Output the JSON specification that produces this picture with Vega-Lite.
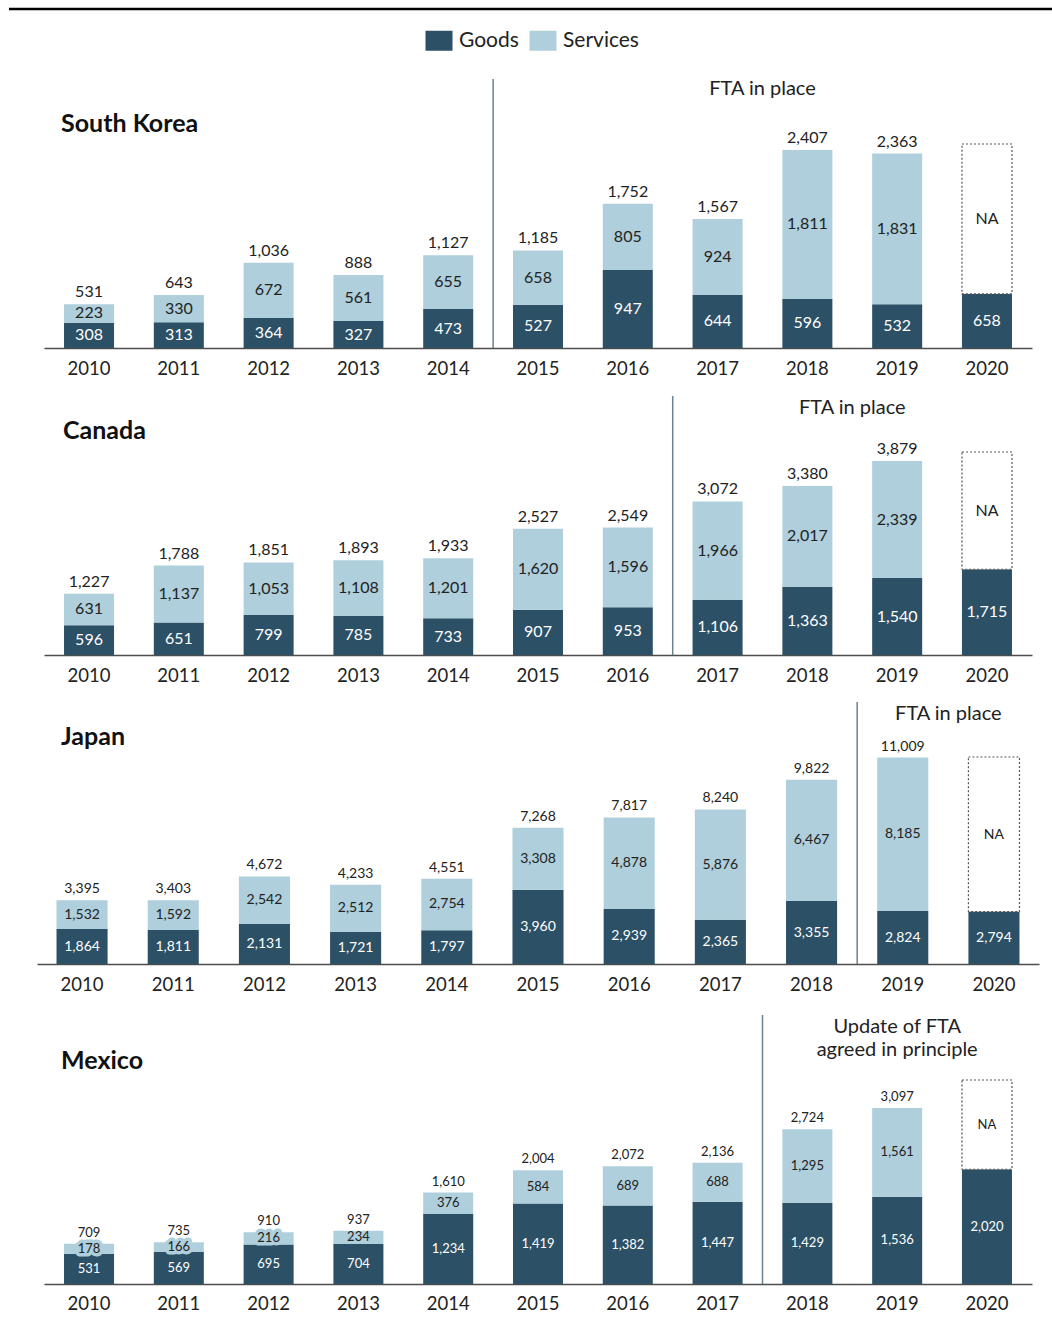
{
  "$schema": "https://vega.github.io/schema/vega-lite/v6.json",
  "padding": 0,
  "background": "white",
  "config": {"view": {"stroke": null}, "font": "Lato", "text": {"font": "Lato"}},
  "data": {"name": "trade"},
  "datasets": {
    "trade": [
      {"country": "South Korea", "year": 2010, "Goods": 308, "Services": 223, "Total": 531},
      {"country": "South Korea", "year": 2011, "Goods": 313, "Services": 330, "Total": 643},
      {"country": "South Korea", "year": 2012, "Goods": 364, "Services": 672, "Total": 1036},
      {"country": "South Korea", "year": 2013, "Goods": 327, "Services": 561, "Total": 888},
      {"country": "South Korea", "year": 2014, "Goods": 473, "Services": 655, "Total": 1127},
      {"country": "South Korea", "year": 2015, "Goods": 527, "Services": 658, "Total": 1185},
      {"country": "South Korea", "year": 2016, "Goods": 947, "Services": 805, "Total": 1752},
      {"country": "South Korea", "year": 2017, "Goods": 644, "Services": 924, "Total": 1567},
      {"country": "South Korea", "year": 2018, "Goods": 596, "Services": 1811, "Total": 2407},
      {"country": "South Korea", "year": 2019, "Goods": 532, "Services": 1831, "Total": 2363},
      {"country": "South Korea", "year": 2020, "Goods": 658, "Services": null, "Total": null, "NAtop": 2479},
      {"country": "Canada", "year": 2010, "Goods": 596, "Services": 631, "Total": 1227},
      {"country": "Canada", "year": 2011, "Goods": 651, "Services": 1137, "Total": 1788},
      {"country": "Canada", "year": 2012, "Goods": 799, "Services": 1053, "Total": 1851},
      {"country": "Canada", "year": 2013, "Goods": 785, "Services": 1108, "Total": 1893},
      {"country": "Canada", "year": 2014, "Goods": 733, "Services": 1201, "Total": 1933},
      {"country": "Canada", "year": 2015, "Goods": 907, "Services": 1620, "Total": 2527},
      {"country": "Canada", "year": 2016, "Goods": 953, "Services": 1596, "Total": 2549},
      {"country": "Canada", "year": 2017, "Goods": 1106, "Services": 1966, "Total": 3072},
      {"country": "Canada", "year": 2018, "Goods": 1363, "Services": 2017, "Total": 3380},
      {"country": "Canada", "year": 2019, "Goods": 1540, "Services": 2339, "Total": 3879},
      {"country": "Canada", "year": 2020, "Goods": 1715, "Services": null, "Total": null, "NAtop": 4060},
      {"country": "Japan", "year": 2010, "Goods": 1864, "Services": 1532, "Total": 3395},
      {"country": "Japan", "year": 2011, "Goods": 1811, "Services": 1592, "Total": 3403},
      {"country": "Japan", "year": 2012, "Goods": 2131, "Services": 2542, "Total": 4672},
      {"country": "Japan", "year": 2013, "Goods": 1721, "Services": 2512, "Total": 4233},
      {"country": "Japan", "year": 2014, "Goods": 1797, "Services": 2754, "Total": 4551},
      {"country": "Japan", "year": 2015, "Goods": 3960, "Services": 3308, "Total": 7268},
      {"country": "Japan", "year": 2016, "Goods": 2939, "Services": 4878, "Total": 7817},
      {"country": "Japan", "year": 2017, "Goods": 2365, "Services": 5876, "Total": 8240},
      {"country": "Japan", "year": 2018, "Goods": 3355, "Services": 6467, "Total": 9822},
      {"country": "Japan", "year": 2019, "Goods": 2824, "Services": 8185, "Total": 11009},
      {"country": "Japan", "year": 2020, "Goods": 2794, "Services": null, "Total": null, "NAtop": 11040},
      {"country": "Mexico", "year": 2010, "Goods": 531, "Services": 178, "Total": 709},
      {"country": "Mexico", "year": 2011, "Goods": 569, "Services": 166, "Total": 735},
      {"country": "Mexico", "year": 2012, "Goods": 695, "Services": 216, "Total": 910},
      {"country": "Mexico", "year": 2013, "Goods": 704, "Services": 234, "Total": 937},
      {"country": "Mexico", "year": 2014, "Goods": 1234, "Services": 376, "Total": 1610},
      {"country": "Mexico", "year": 2015, "Goods": 1419, "Services": 584, "Total": 2004},
      {"country": "Mexico", "year": 2016, "Goods": 1382, "Services": 689, "Total": 2072},
      {"country": "Mexico", "year": 2017, "Goods": 1447, "Services": 688, "Total": 2136},
      {"country": "Mexico", "year": 2018, "Goods": 1429, "Services": 1295, "Total": 2724},
      {"country": "Mexico", "year": 2019, "Goods": 1536, "Services": 1561, "Total": 3097},
      {"country": "Mexico", "year": 2020, "Goods": 2020, "Services": null, "Total": null, "NAtop": 3592}
    ]
  },
  "spacing": 0,
  "vconcat": [
    {
      "width": 1052, "height": 78,
      "data": {"values": [{}]},
      "mark": {"type": "rule", "color": "#000000", "strokeWidth": 2.5},
      "encoding": {
        "x": {"datum": 0, "type": "quantitative", "scale": {"domain": [0, 1], "range": [9, 1052]}, "axis": null},
        "x2": {"datum": 1},
        "y": {"datum": 69, "type": "quantitative", "scale": {"domain": [0, 78]}, "axis": null}
      }
    },
    {
      "width": 1052, "height": 269,
      "transform": [{"filter": "datum.country === 'South Korea'"}],
      "encoding": {"x": {"field": "year", "type": "ordinal", "scale": {"range": [44, 1032], "paddingInner": 0.443, "paddingOuter": 0.223}, "axis": {"title": null, "labelAngle": 0, "ticks": false, "domainColor": "#4d4d4d", "domainWidth": 1.5, "labelFontSize": 18.5, "labelPadding": 11, "labelColor": "#222222", "labelFont": "Lato", "minExtent": 47, "maxExtent": 47}}},
      "layer": [
        {"transform": [{"fold": ["Goods", "Services"], "as": ["type", "value"]}, {"filter": "isValid(datum.value)"}],
         "mark": {"type": "bar"},
         "encoding": {"y": {"field": "value", "type": "quantitative", "stack": "zero", "scale": {"domain": [0, 3268.5], "nice": false}, "axis": null},
           "order": {"field": "type", "type": "nominal", "sort": "ascending"},
           "color": {"field": "type", "type": "nominal", "scale": {"domain": ["Goods", "Services"], "range": ["#2c5066", "#aecfdb"]}, "legend": {"title": null, "orient": "none", "legendX": 428.5, "legendY": 30, "direction": "horizontal", "symbolType": "M-1.35,-1H1.35V1H-1.35Z", "symbolSize": 400, "symbolStrokeWidth": 0, "labelFontSize": 21, "labelFont": "Lato", "labelColor": "#222222", "columnPadding": 10, "labelOffset": 9.5}}}},
        {"transform": [{"fold": ["Goods", "Services"], "as": ["type", "value"]}, {"filter": "isValid(datum.value)"}],
         "mark": {"type": "text", "fontSize": 16, "baseline": "middle"},
         "encoding": {"y": {"field": "value", "type": "quantitative", "stack": "zero", "bandPosition": 0.5},
           "order": {"field": "type", "type": "nominal", "sort": "ascending"},
           "detail": {"field": "type"},
           "text": {"field": "value", "format": ","},
           "color": {"condition": {"test": "datum.type === 'Goods'", "value": "#ffffff"}, "value": "#222222"}}},
        {"transform": [{"filter": "isValid(datum.Total)"}],
         "mark": {"type": "text", "fontSize": 16, "baseline": "middle", "dy": -12, "color": "#222222"},
         "encoding": {"y": {"field": "Total", "type": "quantitative"}, "text": {"field": "Total", "format": ","}}},
        {"transform": [{"filter": "isValid(datum.NAtop)"}],
         "mark": {"type": "bar", "fill": "#ffffff", "stroke": "#555555", "strokeDash": [2, 2], "strokeWidth": 1.2},
         "encoding": {"y": {"field": "Goods", "type": "quantitative"}, "y2": {"field": "NAtop"}}},
        {"transform": [{"filter": "isValid(datum.NAtop)"}],
         "mark": {"type": "text", "text": "NA", "fontSize": 16, "baseline": "middle", "dy": 75, "color": "#222222"},
         "encoding": {"y": {"field": "NAtop", "type": "quantitative"}}},
        {"data": {"values": [{}]},
         "mark": {"type": "rule", "color": "#6b8190", "strokeWidth": 1.5},
         "encoding": {"x": {"datum": 2014, "type": "ordinal", "bandPosition": 1.398}}},
        {"data": {"values": [{}]},
         "mark": {"type": "text", "text": "South Korea", "align": "left", "baseline": "middle", "fontSize": 25, "fontWeight": "bold", "dx": -3, "color": "#111111"},
         "encoding": {"x": {"datum": 2010, "type": "ordinal", "bandPosition": 0}, "y": {"datum": 2722, "type": "quantitative"}}},
        {"data": {"values": [{}]},
         "mark": {"type": "text", "text": "FTA in place", "align": "center", "baseline": "middle", "fontSize": 20, "color": "#222222"},
         "encoding": {"x": {"datum": 2017, "type": "ordinal", "bandPosition": 1.398}, "y": {"datum": 3141, "type": "quantitative"}}}
      ]
    },
    {
      "width": 1052, "height": 259,
      "transform": [{"filter": "datum.country === 'Canada'"}],
      "encoding": {"x": {"field": "year", "type": "ordinal", "scale": {"range": [44, 1032], "paddingInner": 0.443, "paddingOuter": 0.223}, "axis": {"title": null, "labelAngle": 0, "ticks": false, "domainColor": "#4d4d4d", "domainWidth": 1.5, "labelFontSize": 18.5, "labelPadding": 11, "labelColor": "#222222", "labelFont": "Lato", "minExtent": 46, "maxExtent": 46}}},
      "layer": [
        {"transform": [{"fold": ["Goods", "Services"], "as": ["type", "value"]}, {"filter": "isValid(datum.value)"}],
         "mark": {"type": "bar"},
         "encoding": {"y": {"field": "value", "type": "quantitative", "stack": "zero", "scale": {"domain": [0, 5180], "nice": false}, "axis": null},
           "order": {"field": "type", "type": "nominal", "sort": "ascending"},
           "color": {"field": "type", "type": "nominal", "scale": {"domain": ["Goods", "Services"], "range": ["#2c5066", "#aecfdb"]}, "legend": {"title": null, "orient": "none", "legendX": 428.5, "legendY": 30, "direction": "horizontal", "symbolType": "M-1.35,-1H1.35V1H-1.35Z", "symbolSize": 400, "symbolStrokeWidth": 0, "labelFontSize": 21, "labelFont": "Lato", "labelColor": "#222222", "columnPadding": 10, "labelOffset": 9.5}}}},
        {"transform": [{"fold": ["Goods", "Services"], "as": ["type", "value"]}, {"filter": "isValid(datum.value)"}],
         "mark": {"type": "text", "fontSize": 16, "baseline": "middle"},
         "encoding": {"y": {"field": "value", "type": "quantitative", "stack": "zero", "bandPosition": 0.5},
           "order": {"field": "type", "type": "nominal", "sort": "ascending"},
           "detail": {"field": "type"},
           "text": {"field": "value", "format": ","},
           "color": {"condition": {"test": "datum.type === 'Goods'", "value": "#ffffff"}, "value": "#222222"}}},
        {"transform": [{"filter": "isValid(datum.Total)"}],
         "mark": {"type": "text", "fontSize": 16, "baseline": "middle", "dy": -12, "color": "#222222"},
         "encoding": {"y": {"field": "Total", "type": "quantitative"}, "text": {"field": "Total", "format": ","}}},
        {"transform": [{"filter": "isValid(datum.NAtop)"}],
         "mark": {"type": "bar", "fill": "#ffffff", "stroke": "#555555", "strokeDash": [2, 2], "strokeWidth": 1.2},
         "encoding": {"y": {"field": "Goods", "type": "quantitative"}, "y2": {"field": "NAtop"}}},
        {"transform": [{"filter": "isValid(datum.NAtop)"}],
         "mark": {"type": "text", "text": "NA", "fontSize": 16, "baseline": "middle", "dy": 59, "color": "#222222"},
         "encoding": {"y": {"field": "NAtop", "type": "quantitative"}}},
        {"data": {"values": [{}]},
         "mark": {"type": "rule", "color": "#6b8190", "strokeWidth": 1.5},
         "encoding": {"x": {"datum": 2016, "type": "ordinal", "bandPosition": 1.398}}},
        {"data": {"values": [{}]},
         "mark": {"type": "text", "text": "Canada", "align": "left", "baseline": "middle", "fontSize": 25, "fontWeight": "bold", "dx": -1, "color": "#111111"},
         "encoding": {"x": {"datum": 2010, "type": "ordinal", "bandPosition": 0}, "y": {"datum": 4480, "type": "quantitative"}}},
        {"data": {"values": [{}]},
         "mark": {"type": "text", "text": "FTA in place", "align": "center", "baseline": "middle", "fontSize": 20, "color": "#222222"},
         "encoding": {"x": {"datum": 2018, "type": "ordinal", "bandPosition": 1.398}, "y": {"datum": 4950, "type": "quantitative"}}}
      ]
    },
    {
      "width": 1052, "height": 262,
      "transform": [{"filter": "datum.country === 'Japan'"}],
      "encoding": {"x": {"field": "year", "type": "ordinal", "scale": {"range": [37, 1039], "paddingInner": 0.44, "paddingOuter": 0.214}, "axis": {"title": null, "labelAngle": 0, "ticks": false, "domainColor": "#4d4d4d", "domainWidth": 1.5, "labelFontSize": 18.5, "labelPadding": 11, "labelColor": "#222222", "labelFont": "Lato", "minExtent": 49.5, "maxExtent": 49.5}}},
      "layer": [
        {"transform": [{"fold": ["Goods", "Services"], "as": ["type", "value"]}, {"filter": "isValid(datum.value)"}],
         "mark": {"type": "bar"},
         "encoding": {"y": {"field": "value", "type": "quantitative", "stack": "zero", "scale": {"domain": [0, 13973], "nice": false}, "axis": null},
           "order": {"field": "type", "type": "nominal", "sort": "ascending"},
           "color": {"field": "type", "type": "nominal", "scale": {"domain": ["Goods", "Services"], "range": ["#2c5066", "#aecfdb"]}, "legend": {"title": null, "orient": "none", "legendX": 428.5, "legendY": 30, "direction": "horizontal", "symbolType": "M-1.35,-1H1.35V1H-1.35Z", "symbolSize": 400, "symbolStrokeWidth": 0, "labelFontSize": 21, "labelFont": "Lato", "labelColor": "#222222", "columnPadding": 10, "labelOffset": 9.5}}}},
        {"transform": [{"fold": ["Goods", "Services"], "as": ["type", "value"]}, {"filter": "isValid(datum.value)"}],
         "mark": {"type": "text", "fontSize": 14, "baseline": "middle"},
         "encoding": {"y": {"field": "value", "type": "quantitative", "stack": "zero", "bandPosition": 0.5},
           "order": {"field": "type", "type": "nominal", "sort": "ascending"},
           "detail": {"field": "type"},
           "text": {"field": "value", "format": ","},
           "color": {"condition": {"test": "datum.type === 'Goods'", "value": "#ffffff"}, "value": "#222222"}}},
        {"transform": [{"filter": "isValid(datum.Total)"}],
         "mark": {"type": "text", "fontSize": 14, "baseline": "middle", "dy": -11, "color": "#222222"},
         "encoding": {"y": {"field": "Total", "type": "quantitative"}, "text": {"field": "Total", "format": ","}}},
        {"transform": [{"filter": "isValid(datum.NAtop)"}],
         "mark": {"type": "bar", "fill": "#ffffff", "stroke": "#555555", "strokeDash": [2, 2], "strokeWidth": 1.2},
         "encoding": {"y": {"field": "Goods", "type": "quantitative"}, "y2": {"field": "NAtop"}}},
        {"transform": [{"filter": "isValid(datum.NAtop)"}],
         "mark": {"type": "text", "text": "NA", "fontSize": 14, "baseline": "middle", "dy": 78, "color": "#222222"},
         "encoding": {"y": {"field": "NAtop", "type": "quantitative"}}},
        {"data": {"values": [{}]},
         "mark": {"type": "rule", "color": "#6b8190", "strokeWidth": 1.5},
         "encoding": {"x": {"datum": 2018, "type": "ordinal", "bandPosition": 1.393}}},
        {"data": {"values": [{}]},
         "mark": {"type": "text", "text": "Japan", "align": "left", "baseline": "middle", "fontSize": 25, "fontWeight": "bold", "dx": 4.5, "color": "#111111"},
         "encoding": {"x": {"datum": 2010, "type": "ordinal", "bandPosition": 0}, "y": {"datum": 12107, "type": "quantitative"}}},
        {"data": {"values": [{}]},
         "mark": {"type": "text", "text": "FTA in place", "align": "center", "baseline": "middle", "fontSize": 20, "color": "#222222"},
         "encoding": {"x": {"datum": 2019, "type": "ordinal", "bandPosition": 1.393}, "y": {"datum": 13333, "type": "quantitative"}}}
      ]
    },
    {
      "width": 1052, "height": 269,
      "transform": [{"filter": "datum.country === 'Mexico'"}],
      "encoding": {"x": {"field": "year", "type": "ordinal", "scale": {"range": [44, 1032], "paddingInner": 0.443, "paddingOuter": 0.223}, "axis": {"title": null, "labelAngle": 0, "ticks": false, "domainColor": "#4d4d4d", "domainWidth": 1.5, "labelFontSize": 18.5, "labelPadding": 10, "labelColor": "#222222", "labelFont": "Lato", "minExtent": 47, "maxExtent": 47}}},
      "layer": [
        {"transform": [{"fold": ["Goods", "Services"], "as": ["type", "value"]}, {"filter": "isValid(datum.value)"}],
         "mark": {"type": "bar"},
         "encoding": {"y": {"field": "value", "type": "quantitative", "stack": "zero", "scale": {"domain": [0, 4736], "nice": false}, "axis": null},
           "order": {"field": "type", "type": "nominal", "sort": "ascending"},
           "color": {"field": "type", "type": "nominal", "scale": {"domain": ["Goods", "Services"], "range": ["#2c5066", "#aecfdb"]}, "legend": {"title": null, "orient": "none", "legendX": 428.5, "legendY": 30, "direction": "horizontal", "symbolType": "M-1.35,-1H1.35V1H-1.35Z", "symbolSize": 400, "symbolStrokeWidth": 0, "labelFontSize": 21, "labelFont": "Lato", "labelColor": "#222222", "columnPadding": 10, "labelOffset": 9.5}}}},
        {"transform": [{"fold": ["Goods", "Services"], "as": ["type", "value"]}, {"filter": "isValid(datum.value)"}],
         "mark": {"type": "text", "fontSize": 13, "baseline": "middle", "fill": "#aecfdb", "stroke": "#aecfdb", "strokeWidth": 7, "strokeJoin": "round"},
         "encoding": {"y": {"field": "value", "type": "quantitative", "stack": "zero", "bandPosition": 0.5},
           "order": {"field": "type", "type": "nominal", "sort": "ascending"},
           "detail": {"field": "type"},
           "text": {"field": "value", "format": ","},
           "opacity": {"condition": {"test": "datum.type === 'Services' && datum.value < 230", "value": 1}, "value": 0}}},
        {"transform": [{"fold": ["Goods", "Services"], "as": ["type", "value"]}, {"filter": "isValid(datum.value)"}],
         "mark": {"type": "text", "fontSize": 13, "baseline": "middle"},
         "encoding": {"y": {"field": "value", "type": "quantitative", "stack": "zero", "bandPosition": 0.5},
           "order": {"field": "type", "type": "nominal", "sort": "ascending"},
           "detail": {"field": "type"},
           "text": {"field": "value", "format": ","},
           "color": {"condition": {"test": "datum.type === 'Goods'", "value": "#ffffff"}, "value": "#222222"}}},
        {"transform": [{"filter": "isValid(datum.Total)"}],
         "mark": {"type": "text", "fontSize": 13, "baseline": "middle", "dy": -11, "color": "#222222"},
         "encoding": {"y": {"field": "Total", "type": "quantitative"}, "text": {"field": "Total", "format": ","}}},
        {"transform": [{"filter": "isValid(datum.NAtop)"}],
         "mark": {"type": "bar", "fill": "#ffffff", "stroke": "#555555", "strokeDash": [2, 2], "strokeWidth": 1.2},
         "encoding": {"y": {"field": "Goods", "type": "quantitative"}, "y2": {"field": "NAtop"}}},
        {"transform": [{"filter": "isValid(datum.NAtop)"}],
         "mark": {"type": "text", "text": "NA", "fontSize": 13, "baseline": "middle", "dy": 45, "color": "#222222"},
         "encoding": {"y": {"field": "NAtop", "type": "quantitative"}}},
        {"data": {"values": [{}]},
         "mark": {"type": "rule", "color": "#6b8190", "strokeWidth": 1.5},
         "encoding": {"x": {"datum": 2017, "type": "ordinal", "bandPosition": 1.398}}},
        {"data": {"values": [{}]},
         "mark": {"type": "text", "text": "Mexico", "align": "left", "baseline": "middle", "fontSize": 25, "fontWeight": "bold", "dx": -3, "color": "#111111"},
         "encoding": {"x": {"datum": 2010, "type": "ordinal", "bandPosition": 0}, "y": {"datum": 3926, "type": "quantitative"}}},
        {"data": {"values": [{"label": "Update of FTA", "ypos": 4516}, {"label": "agreed in principle", "ypos": 4111}]},
         "mark": {"type": "text", "align": "center", "baseline": "middle", "fontSize": 20, "color": "#222222"},
         "encoding": {"x": {"datum": 2019, "type": "ordinal", "bandPosition": 0.5}, "y": {"field": "ypos", "type": "quantitative"}, "text": {"field": "label"}}}
      ]
    }
  ]
}
